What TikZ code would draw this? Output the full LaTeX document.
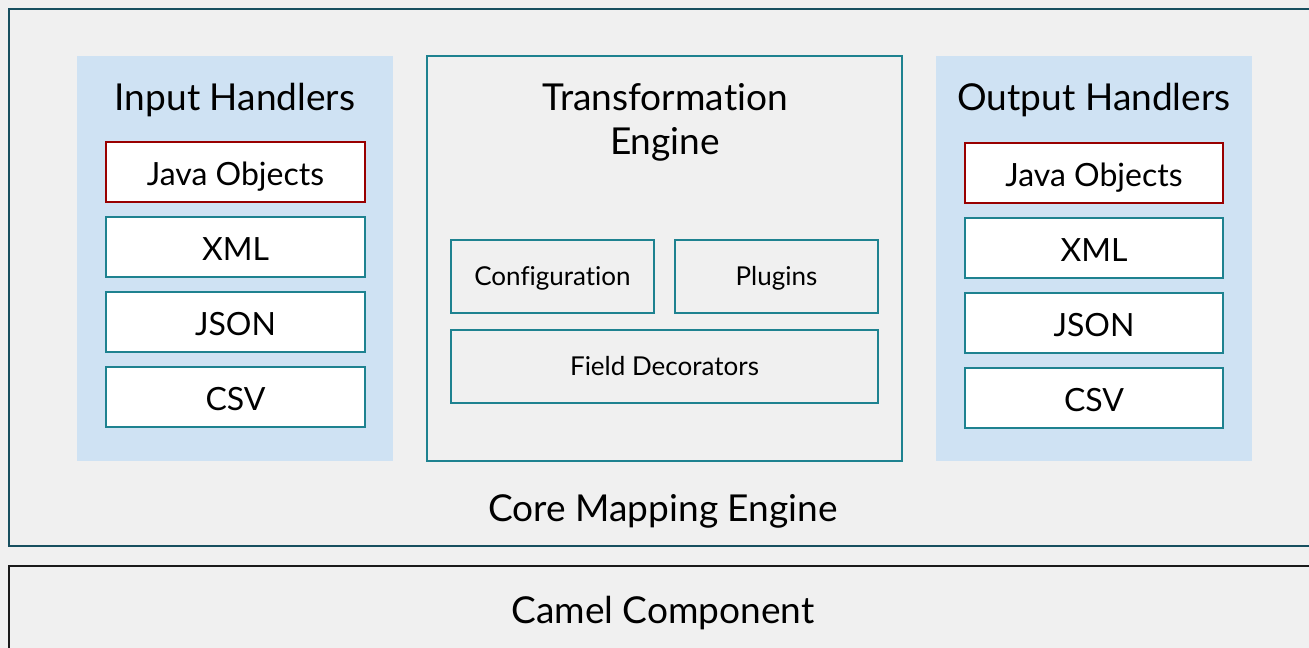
\documentclass[tikz,border=0pt]{standalone}
\usepackage{fontspec}
\setmainfont{Lato}[Ligatures=NoCommon]
\definecolor{bg}{HTML}{F0F0F0}
\definecolor{panel}{HTML}{CFE2F3}
\definecolor{teal}{HTML}{1E8290}
\definecolor{darkteal}{HTML}{174F5F}
\definecolor{darkred}{HTML}{990000}
\definecolor{camel}{HTML}{1A1A1A}
\tikzset{
  fmtbox/.style={draw=teal, fill=white, line width=1.5pt, font=\fontsize{24}{28}\selectfont},
  javabox/.style={fmtbox, draw=darkred},
  subbox/.style={draw=teal, line width=1.5pt, font=\fontsize{19.5}{23}\selectfont},
  flbl/.style={text height=17.3pt, text depth=0pt, yshift=-1.5pt},
  slbl/.style={text height=14pt, text depth=0pt},
  title/.style={font=\fontsize{27.8}{33}\selectfont, text=black},
}
\begin{document}
\begin{tikzpicture}[x=0.75pt,y=-0.75pt]
\useasboundingbox (0,0) rectangle (1309,648);
\fill[bg] (0,0) rectangle (1309,648);
\clip (0,0) rectangle (1309,648);
% outer
\draw[darkteal, line width=1.5pt] (9,9) rectangle (1330,546);
\node[title] (core) at (663,511) {Core Mapping Engine};
\draw[camel, line width=1.5pt] (9,566) rectangle (1330,680);
\node[title] (camel) at (663,613) {Camel Component};
% input panel
\fill[panel] (77,56) rectangle (393,461);
\node[title] (inh) at (235,100) {Input Handlers};
\draw[javabox] (106,142) rectangle node[flbl] (ijava) {Java Objects} (365,202);
\draw[fmtbox] (106,217) rectangle node[flbl] (ixml) {XML} (365,277);
\draw[fmtbox] (106,292) rectangle node[flbl] (ijson) {JSON} (365,352);
\draw[fmtbox] (106,367) rectangle node[flbl] (icsv) {CSV} (365,427);
% transformation
\draw[teal, line width=1.5pt] (427,56) rectangle (902,461);
\node[title, align=center] (te) at (665,122) {Transformation\\Engine};
\draw[subbox] (451,240) rectangle node[slbl] (conf) {Configuration} (654,313);
\draw[subbox] (675,240) rectangle node[slbl] (plug) {Plugins} (878,313);
\draw[subbox] (451,330) rectangle node[slbl] (fd) {Field Decorators} (878,403);
% output panel
\fill[panel] (936,56) rectangle (1252,461);
\node[title] (outh) at (1094,100) {Output Handlers};
\draw[javabox] (965,143) rectangle node[flbl] (ojava) {Java Objects} (1223,203);
\draw[fmtbox] (965,218) rectangle node[flbl] (oxml) {XML} (1223,278);
\draw[fmtbox] (965,293) rectangle node[flbl] (ojson) {JSON} (1223,353);
\draw[fmtbox] (965,368) rectangle node[flbl] (ocsv) {CSV} (1223,428);
\end{tikzpicture}
\end{document}
